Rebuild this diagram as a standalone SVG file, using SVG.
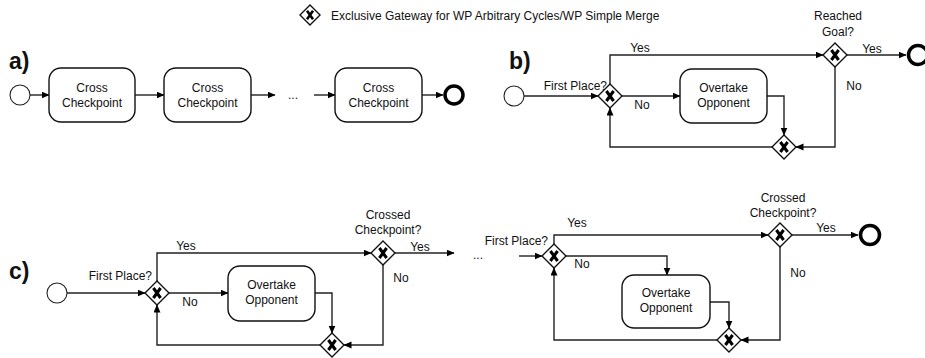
<svg xmlns="http://www.w3.org/2000/svg" xmlns:xlink="http://www.w3.org/1999/xlink" width="925" height="358" viewBox="0 0 925 358">
<style>
text{font-family:"Liberation Sans",Arial,sans-serif;fill:#111}
.t{font-size:12px}
.c{text-anchor:middle}
.r{text-anchor:end}
.lbl{font-size:23px;font-weight:bold}
.box{fill:#fff;stroke:#111;stroke-width:1.4}
.start{fill:#fff;stroke:#222;stroke-width:1.1}
.end{fill:#fff;stroke:#000;stroke-width:3.5}
.e{fill:none;stroke:#222;stroke-width:1.4}
.ea{fill:none;stroke:#222;stroke-width:1.4;marker-end:url(#arr)}
</style>
<defs>
<marker id="arr" markerWidth="8" markerHeight="8" refX="7.5" refY="3.5" orient="auto" markerUnits="userSpaceOnUse">
<path d="M0,0 L8,3.5 L0,7 z" fill="#000"/>
</marker>
<g id="gw">
<polygon points="0,-12 12,0 0,12 -12,0" fill="#fff" stroke="#111" stroke-width="1.4"/>
<path d="M-3.6,-5 L3.6,5 M3.6,-5 L-3.6,5" stroke="#000" stroke-width="3" fill="none"/>
</g>
<g id="gws">
<polygon points="0,-10 10,0 0,10 -10,0" fill="#fff" stroke="#111" stroke-width="1.4"/>
<path d="M-3,-4.2 L3,4.2 M3,-4.2 L-3,4.2" stroke="#000" stroke-width="2.6" fill="none"/>
</g>
</defs>

<g id="legend">
<use href="#gws" x="310" y="15"/>
<text class="t" x="331" y="19.5">Exclusive Gateway for WP Arbitrary Cycles/WP Simple Merge</text>
</g>

<g id="labels">
<text class="lbl" x="9" y="69">a)</text>
<text class="lbl" x="509" y="69">b)</text>
<text class="lbl" x="9" y="279">c)</text>
</g>

<g id="connectors">
<!-- a -->
<line class="ea" x1="30" y1="95" x2="49" y2="95"/>
<line class="ea" x1="135" y1="95" x2="164" y2="95"/>
<line class="ea" x1="251" y1="95" x2="275" y2="95"/>
<line class="ea" x1="314" y1="95" x2="335" y2="95"/>
<line class="ea" x1="422" y1="95" x2="443" y2="95"/>
<!-- b -->
<line class="ea" x1="524" y1="96" x2="598" y2="96"/>
<polyline class="ea" points="610,84 610,55 823,55"/>
<line class="ea" x1="847" y1="55" x2="906" y2="55"/>
<line class="ea" x1="622" y1="96" x2="680" y2="96"/>
<polyline class="ea" points="767,96 784,96 784,135"/>
<polyline class="ea" points="835,67 835,147 796,147"/>
<polyline class="ea" points="772,147 610,147 610,108"/>
<!-- c left -->
<line class="ea" x1="67" y1="293" x2="145" y2="293"/>
<polyline class="ea" points="157,281 157,253 371,253"/>
<line class="ea" x1="395" y1="253" x2="454" y2="253"/>
<line class="ea" x1="169" y1="293" x2="228" y2="293"/>
<polyline class="ea" points="315,293 332,293 332,333"/>
<polyline class="ea" points="383,265 383,345 344,345"/>
<polyline class="ea" points="320,345 157,345 157,305"/>
<!-- c right -->
<line class="ea" x1="519" y1="256" x2="542" y2="256"/>
<polyline class="ea" points="554,244 554,235 768,235"/>
<line class="ea" x1="792" y1="235" x2="858" y2="235"/>
<polyline class="ea" points="566,256 667,256 667,275"/>
<polyline class="ea" points="710,302 729,302 729,328"/>
<polyline class="ea" points="780,247 780,340 741,340"/>
<polyline class="ea" points="717,340 554,340 554,268"/>
</g>

<g id="edge-labels">
<text class="t" x="293" y="99" text-anchor="middle">...</text>
<text class="t r" x="607" y="90">First Place?</text>
<text class="t c" x="640" y="52">Yes</text>
<text class="t c" x="642" y="109">No</text>
<text class="t c" x="838" y="20">Reached</text>
<text class="t c" x="838" y="36">Goal?</text>
<text class="t c" x="872" y="53">Yes</text>
<text class="t c" x="854" y="90">No</text>

<text class="t r" x="152" y="280">First Place?</text>
<text class="t c" x="186" y="250">Yes</text>
<text class="t c" x="190" y="306">No</text>
<text class="t c" x="388" y="219">Crossed</text>
<text class="t c" x="388" y="234">Checkpoint?</text>
<text class="t c" x="420" y="251">Yes</text>
<text class="t c" x="401" y="282">No</text>
<text class="t c" x="478" y="259">...</text>

<text class="t r" x="548" y="245">First Place?</text>
<text class="t c" x="577" y="227">Yes</text>
<text class="t c" x="582" y="268">No</text>
<text class="t c" x="783" y="202">Crossed</text>
<text class="t c" x="783" y="217">Checkpoint?</text>
<text class="t c" x="826" y="232">Yes</text>
<text class="t c" x="798" y="277">No</text>
</g>

<!-- a nodes -->
<g id="a-start"><circle class="start" cx="20" cy="95" r="10"/></g>
<g id="a-task1"><rect class="box" x="49" y="68" width="86" height="54" rx="12"/><text class="t c" x="92" y="92">Cross</text><text class="t c" x="92" y="107">Checkpoint</text></g>
<g id="a-task2"><rect class="box" x="164" y="68" width="87" height="54" rx="12"/><text class="t c" x="207.5" y="92">Cross</text><text class="t c" x="207.5" y="107">Checkpoint</text></g>
<g id="a-task3"><rect class="box" x="335" y="68" width="87" height="54" rx="12"/><text class="t c" x="378.5" y="92">Cross</text><text class="t c" x="378.5" y="107">Checkpoint</text></g>
<g id="a-end"><circle class="end" cx="454" cy="95" r="9"/></g>

<!-- b nodes -->
<g id="b-start"><circle class="start" cx="514" cy="96" r="10"/></g>
<g id="b-gw1"><use href="#gw" x="610" y="96"/></g>
<g id="b-task"><rect class="box" x="680" y="69" width="87" height="54" rx="12"/><text class="t c" x="723.5" y="92">Overtake</text><text class="t c" x="723.5" y="107">Opponent</text></g>
<g id="b-gw2"><use href="#gw" x="835" y="55"/></g>
<g id="b-gw3"><use href="#gw" x="784" y="147"/></g>
<g id="b-end"><circle class="end" cx="918" cy="55" r="9.5"/></g>

<!-- c left nodes -->
<g id="c-start"><circle class="start" cx="57" cy="293" r="10"/></g>
<g id="c-gw1"><use href="#gw" x="157" y="293"/></g>
<g id="c-task1"><rect class="box" x="228" y="266" width="87" height="55" rx="12"/><text class="t c" x="271.5" y="289">Overtake</text><text class="t c" x="271.5" y="304">Opponent</text></g>
<g id="c-gw2"><use href="#gw" x="383" y="253"/></g>
<g id="c-gw3"><use href="#gw" x="332" y="345"/></g>

<!-- c right nodes -->
<g id="c-gw4"><use href="#gw" x="554" y="256"/></g>
<g id="c-task2"><rect class="box" x="622" y="275" width="88" height="53" rx="12"/><text class="t c" x="666" y="297">Overtake</text><text class="t c" x="666" y="312">Opponent</text></g>
<g id="c-gw5"><use href="#gw" x="780" y="235"/></g>
<g id="c-gw6"><use href="#gw" x="729" y="340"/></g>
<g id="c-end"><circle class="end" cx="870" cy="235" r="9.5"/></g>
</svg>
